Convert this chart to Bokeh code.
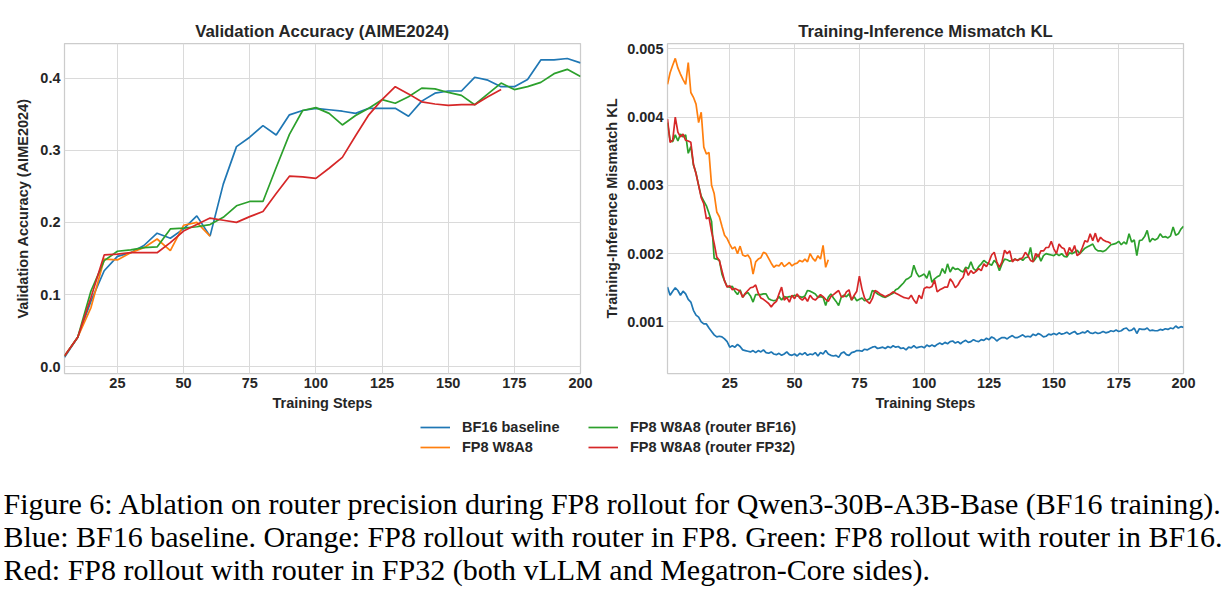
from bokeh.plotting import figure
from bokeh.layouts import column, row
from bokeh.models import (Range1d, FixedTicker, PrintfTickFormatter, Legend,
                          LegendItem, Label)
from bokeh.embed import file_html
from bokeh.resources import INLINE

# ---------------- data ----------------
acc_steps = [5, 10, 15, 20, 25, 30, 35, 40, 45, 50, 55, 60, 65, 70, 75, 80, 85, 90, 95, 100,
             105, 110, 115, 120, 125, 130, 135, 140, 145, 150, 155, 160, 165, 170, 175, 180,
             185, 190, 195, 200]
acc_bf16 = [0.013, 0.041, 0.091, 0.133, 0.153, 0.158, 0.168, 0.185, 0.178, 0.191,
            0.209, 0.181, 0.253, 0.305, 0.318, 0.334, 0.321, 0.349, 0.355, 0.358,
            0.356, 0.354, 0.351, 0.358, 0.358, 0.358, 0.347, 0.368, 0.379, 0.382,
            0.382, 0.401, 0.397, 0.388, 0.388, 0.398, 0.425, 0.425, 0.427, 0.421]
acc_fp8 = [0.015, 0.041, 0.082, 0.149, 0.148, 0.158, 0.165, 0.177, 0.161, 0.196,
           0.200, 0.181]
acc_router_bf16 = [0.015, 0.041, 0.105, 0.147, 0.160, 0.162, 0.165, 0.166, 0.191, 0.192,
                   0.194, 0.197, 0.207, 0.223, 0.229, 0.229, 0.276, 0.322, 0.355, 0.359,
                   0.351, 0.335, 0.348, 0.358, 0.370, 0.365, 0.374, 0.386, 0.385, 0.380,
                   0.376, 0.363, 0.378, 0.393, 0.384, 0.388, 0.394, 0.406, 0.412, 0.402]
acc_router_fp32 = [0.015, 0.041, 0.096, 0.155, 0.156, 0.158, 0.158, 0.158, 0.172, 0.188,
                   0.197, 0.206, 0.203, 0.200, 0.208, 0.215, 0.240, 0.264, 0.263, 0.261,
                   0.275, 0.290, 0.320, 0.349, 0.370, 0.388, 0.378, 0.367, 0.364, 0.362,
                   0.363, 0.363, 0.374, 0.384]

kl_steps = list(range(1, 201))
kl_bf16 = [
    0.00151, 0.00139, 0.00145, 0.00150, 0.00146, 0.00139, 0.00145, 0.00141, 0.00133, 0.00129,
    0.00117, 0.00110, 0.00107, 0.00100, 0.00097, 0.00097, 0.00091, 0.00086, 0.00081, 0.00078,
    0.00079, 0.00078, 0.00075, 0.00071, 0.00063, 0.00065, 0.00063, 0.00067, 0.00064, 0.00059,
    0.00058, 0.00057, 0.00056, 0.00058, 0.00055, 0.00058, 0.00056, 0.00059, 0.00055, 0.00054,
    0.00056, 0.00053, 0.00052, 0.00054, 0.00051, 0.00053, 0.00056, 0.00052, 0.00051, 0.00053,
    0.00050, 0.00054, 0.00052, 0.00055, 0.00051, 0.00053, 0.00052, 0.00055, 0.00050, 0.00055,
    0.00053, 0.00058, 0.00053, 0.00051, 0.00050, 0.00051, 0.00048, 0.00054, 0.00056, 0.00052,
    0.00051, 0.00055, 0.00056, 0.00058, 0.00058, 0.00057, 0.00060, 0.00059, 0.00061, 0.00063,
    0.00064, 0.00061, 0.00062, 0.00063, 0.00061, 0.00064, 0.00062, 0.00065, 0.00063, 0.00064,
    0.00061, 0.00062, 0.00059, 0.00063, 0.00062, 0.00065, 0.00062, 0.00063, 0.00064, 0.00062,
    0.00066, 0.00064, 0.00066, 0.00064, 0.00067, 0.00069, 0.00067, 0.00070, 0.00068, 0.00071,
    0.00072, 0.00069, 0.00071, 0.00068, 0.00071, 0.00073, 0.00070, 0.00071, 0.00074, 0.00072,
    0.00071, 0.00074, 0.00073, 0.00076, 0.00074, 0.00078, 0.00076, 0.00072, 0.00075, 0.00077,
    0.00077, 0.00075, 0.00078, 0.00080, 0.00077, 0.00077, 0.00079, 0.00081, 0.00078, 0.00079,
    0.00078, 0.00082, 0.00080, 0.00083, 0.00081, 0.00078, 0.00079, 0.00082, 0.00081, 0.00083,
    0.00081, 0.00084, 0.00082, 0.00083, 0.00085, 0.00082, 0.00084, 0.00086, 0.00082, 0.00083,
    0.00085, 0.00084, 0.00087, 0.00084, 0.00083, 0.00085, 0.00083, 0.00084, 0.00086, 0.00084,
    0.00085, 0.00087, 0.00086, 0.00088, 0.00086, 0.00087, 0.00090, 0.00091, 0.00087, 0.00088,
    0.00091, 0.00083, 0.00090, 0.00089, 0.00089, 0.00091, 0.00087, 0.00088, 0.00087, 0.00087,
    0.00089, 0.00088, 0.00090, 0.00089, 0.00091, 0.00090, 0.00094, 0.00091, 0.00093, 0.00092]
kl_fp8 = [
    0.00448, 0.00465, 0.00476, 0.00486, 0.00472, 0.00463, 0.00455, 0.00448, 0.00480, 0.00436,
    0.00429, 0.00419, 0.00392, 0.00407, 0.00356, 0.00346, 0.00348, 0.00300, 0.00288, 0.00261,
    0.00254, 0.00240, 0.00227, 0.00222, 0.00214, 0.00207, 0.00210, 0.00200, 0.00211, 0.00198,
    0.00196, 0.00198, 0.00192, 0.00170, 0.00188, 0.00192, 0.00194, 0.00202, 0.00200, 0.00193,
    0.00186, 0.00180, 0.00183, 0.00182, 0.00187, 0.00181, 0.00184, 0.00187, 0.00182, 0.00185,
    0.00186, 0.00190, 0.00188, 0.00192, 0.00188, 0.00200, 0.00193, 0.00189, 0.00197, 0.00192,
    0.00212, 0.00180, 0.00191]
kl_router_bf16 = [
    0.00392, 0.00366, 0.00364, 0.00374, 0.00365, 0.00375, 0.00371, 0.00374, 0.00347, 0.00357,
    0.00330, 0.00318, 0.00300, 0.00284, 0.00277, 0.00270, 0.00259, 0.00247, 0.00193, 0.00192,
    0.00190, 0.00170, 0.00160, 0.00152, 0.00151, 0.00152, 0.00145, 0.00140, 0.00147, 0.00136,
    0.00141, 0.00143, 0.00138, 0.00129, 0.00140, 0.00140, 0.00140, 0.00141, 0.00141, 0.00134,
    0.00132, 0.00131, 0.00132, 0.00137, 0.00132, 0.00137, 0.00136, 0.00137, 0.00137, 0.00139,
    0.00138, 0.00137, 0.00136, 0.00138, 0.00146, 0.00145, 0.00143, 0.00141, 0.00136, 0.00137,
    0.00136, 0.00124, 0.00136, 0.00141, 0.00135, 0.00130, 0.00124, 0.00136, 0.00139, 0.00137,
    0.00141, 0.00132, 0.00137, 0.00131, 0.00133, 0.00135, 0.00131, 0.00132, 0.00134, 0.00146,
    0.00144, 0.00141, 0.00139, 0.00137, 0.00136, 0.00138, 0.00140, 0.00142, 0.00147, 0.00149,
    0.00153, 0.00157, 0.00162, 0.00164, 0.00167, 0.00183, 0.00172, 0.00166, 0.00168, 0.00170,
    0.00164, 0.00175, 0.00158, 0.00163, 0.00166, 0.00168, 0.00178, 0.00171, 0.00185, 0.00173,
    0.00180, 0.00177, 0.00178, 0.00175, 0.00173, 0.00180, 0.00178, 0.00188, 0.00178, 0.00175,
    0.00181, 0.00185, 0.00190, 0.00187, 0.00185, 0.00183, 0.00190, 0.00186, 0.00175, 0.00185,
    0.00192, 0.00191, 0.00189, 0.00190, 0.00192, 0.00190, 0.00193, 0.00190, 0.00194, 0.00195,
    0.00209, 0.00188, 0.00193, 0.00199, 0.00189, 0.00197, 0.00200, 0.00199, 0.00198, 0.00197,
    0.00200, 0.00197, 0.00200, 0.00196, 0.00195, 0.00201, 0.00200, 0.00202, 0.00205, 0.00200,
    0.00204, 0.00208, 0.00210, 0.00212, 0.00214, 0.00207, 0.00204, 0.00204, 0.00203, 0.00205,
    0.00209, 0.00213, 0.00214, 0.00215, 0.00218, 0.00213, 0.00217, 0.00214, 0.00229, 0.00217,
    0.00220, 0.00197, 0.00219, 0.00220, 0.00225, 0.00234, 0.00217, 0.00222, 0.00220, 0.00222,
    0.00229, 0.00224, 0.00225, 0.00223, 0.00226, 0.00239, 0.00227, 0.00229, 0.00236, 0.00240]
kl_router_fp32 = [
    0.00397, 0.00363, 0.00366, 0.00400, 0.00378, 0.00371, 0.00375, 0.00366, 0.00365, 0.00363,
    0.00331, 0.00317, 0.00300, 0.00282, 0.00273, 0.00251, 0.00253, 0.00232, 0.00215, 0.00195,
    0.00190, 0.00175, 0.00160, 0.00151, 0.00153, 0.00147, 0.00149, 0.00147, 0.00145, 0.00136,
    0.00142, 0.00146, 0.00150, 0.00151, 0.00154, 0.00142, 0.00135, 0.00133, 0.00130, 0.00127,
    0.00122, 0.00127, 0.00130, 0.00141, 0.00151, 0.00132, 0.00136, 0.00129, 0.00139, 0.00134,
    0.00141, 0.00135, 0.00132, 0.00136, 0.00130, 0.00139, 0.00134, 0.00132, 0.00136, 0.00140,
    0.00137, 0.00133, 0.00130, 0.00137, 0.00140, 0.00143, 0.00146, 0.00137, 0.00137, 0.00144,
    0.00147, 0.00132, 0.00139, 0.00145, 0.00167, 0.00148, 0.00135, 0.00130, 0.00127, 0.00134,
    0.00146, 0.00144, 0.00141, 0.00139, 0.00137, 0.00139, 0.00141, 0.00144, 0.00142, 0.00140,
    0.00138, 0.00136, 0.00135, 0.00134, 0.00139, 0.00132, 0.00127, 0.00139, 0.00134, 0.00149,
    0.00151, 0.00150, 0.00152, 0.00161, 0.00144, 0.00147, 0.00149, 0.00151, 0.00151, 0.00163,
    0.00158, 0.00150, 0.00154, 0.00161, 0.00165, 0.00178, 0.00168, 0.00175, 0.00171, 0.00174,
    0.00178, 0.00175, 0.00185, 0.00181, 0.00188, 0.00198, 0.00202, 0.00188, 0.00180, 0.00188,
    0.00205, 0.00200, 0.00204, 0.00188, 0.00192, 0.00190, 0.00192, 0.00194, 0.00202, 0.00197,
    0.00190, 0.00188, 0.00200, 0.00195, 0.00204, 0.00204, 0.00209, 0.00209, 0.00218, 0.00207,
    0.00200, 0.00214, 0.00209, 0.00207, 0.00197, 0.00209, 0.00202, 0.00212, 0.00197, 0.00200,
    0.00209, 0.00219, 0.00217, 0.00229, 0.00219, 0.00230, 0.00217, 0.00224, 0.00220, 0.00218,
    0.00217, 0.00215]

x_ticks = [25, 50, 75, 100, 125, 150, 175, 200]
acc_ticks = [0.0, 0.1, 0.2, 0.3, 0.4]
kl_ticks = [0.001, 0.002, 0.003, 0.004, 0.005]

series_names = ["BF16 baseline", "FP8 W8A8", "FP8 W8A8 (router BF16)", "FP8 W8A8 (router FP32)"]
series_colors = ["#1f77b4", "#ff7f0e", "#2ca02c", "#d62728"]

caption_lines = [
    "Figure 6: Ablation on router precision during FP8 rollout for Qwen3-30B-A3B-Base (BF16 training).",
    "Blue: BF16 baseline. Orange: FP8 rollout with router in FP8. Green: FP8 rollout with router in BF16.",
    "Red: FP8 rollout with router in FP32 (both vLLM and Megatron-Core sides).",
]

# ---------------- style ----------------
FONT = "Liberation Sans"
TXT = "#262626"
LW = 1.7


def style(p, yfmt):
    p.title.text_font = FONT
    p.title.text_font_style = "bold"
    p.title.text_font_size = "16.8px"
    p.title.align = "center"
    p.title.text_color = TXT
    p.title.standoff = 6
    p.outline_line_color = "#cccccc"
    p.outline_line_width = 1.25
    for ax in (p.xaxis[0], p.yaxis[0]):
        ax.axis_line_color = None
        ax.major_tick_line_color = None
        ax.minor_tick_line_color = None
        ax.major_tick_out = 0
        ax.major_tick_in = 0
        ax.major_label_text_font = FONT
        ax.major_label_text_font_style = "bold"
        ax.major_label_text_font_size = "14.5px"
        ax.major_label_text_color = TXT
        ax.axis_label_text_font = FONT
        ax.axis_label_text_font_style = "bold"
        ax.axis_label_text_font_size = "14.5px"
        ax.axis_label_text_color = TXT
        ax.major_label_standoff = 4
        ax.axis_label_standoff = 4
    p.xaxis[0].ticker = FixedTicker(ticks=x_ticks)
    p.yaxis[0].formatter = PrintfTickFormatter(format=yfmt)
    p.xgrid.grid_line_color = "#dadada"
    p.ygrid.grid_line_color = "#dadada"
    p.xgrid.grid_line_width = 1
    p.ygrid.grid_line_width = 1


# ---------------- left plot ----------------
p1 = figure(width=600, height=415, output_backend="svg", toolbar_location=None,
            title="Validation Accuracy (AIME2024)",
            x_range=Range1d(5, 200), y_range=Range1d(-0.0093, 0.4478),
            min_border_left=64, min_border_right=20, min_border_top=43, min_border_bottom=42)
style(p1, "%.1f")
p1.yaxis[0].ticker = FixedTicker(ticks=acc_ticks)
p1.xaxis[0].axis_label = "Training Steps"
p1.yaxis[0].axis_label = "Validation Accuracy (AIME2024)"
p1.yaxis[0].axis_label_standoff = 6
p1.line(acc_steps, acc_bf16, line_color=series_colors[0], line_width=LW)
p1.line(acc_steps[:len(acc_fp8)], acc_fp8, line_color=series_colors[1], line_width=LW)
p1.line(acc_steps, acc_router_bf16, line_color=series_colors[2], line_width=LW)
p1.line(acc_steps[:len(acc_router_fp32)], acc_router_fp32, line_color=series_colors[3], line_width=LW)

# ---------------- right plot ----------------
p2 = figure(width=632, height=415, output_backend="svg", toolbar_location=None,
            title="Training-Inference Mismatch KL",
            x_range=Range1d(1, 200), y_range=Range1d(0.000244, 0.005078),
            min_border_left=67, min_border_right=49, min_border_top=43, min_border_bottom=42)
style(p2, "%.3f")
p2.yaxis[0].ticker = FixedTicker(ticks=kl_ticks)
p2.xaxis[0].axis_label = "Training Steps"
p2.yaxis[0].axis_label = "Training-Inference Mismatch KL"
p2.line(kl_steps, kl_bf16, line_color=series_colors[0], line_width=LW)
p2.line(kl_steps[:len(kl_fp8)], kl_fp8, line_color=series_colors[1], line_width=LW)
p2.line(kl_steps, kl_router_bf16, line_color=series_colors[2], line_width=LW)
p2.line(kl_steps[:len(kl_router_fp32)], kl_router_fp32, line_color=series_colors[3], line_width=LW)

# ---------------- legend + caption ----------------
p3 = figure(width=1232, height=187, output_backend="svg", toolbar_location=None,
            x_range=Range1d(0, 1232), y_range=Range1d(0, 187),
            x_axis_type=None, y_axis_type=None, outline_line_color=None,
            min_border_left=0, min_border_right=0, min_border_top=0, min_border_bottom=0)
p3.xgrid.visible = False
p3.ygrid.visible = False

# legend-only renderers (one NaN point each: nothing is drawn in the plot area)
nan = float("nan")
legend_renderers = [p3.line(x=[nan], y=[nan], line_color=c, line_width=LW) for c in series_colors]


def make_legend(idx, loc):
    items = [LegendItem(label=series_names[i], renderers=[legend_renderers[i]]) for i in idx]
    lg = Legend(items=items, location=loc, orientation="vertical",
                glyph_width=30, glyph_height=20, label_height=20, label_standoff=12,
                spacing=0, padding=0, margin=0, border_line_alpha=0,
                background_fill_alpha=0, label_text_font=FONT,
                label_text_font_style="bold", label_text_font_size="14.5px",
                label_text_color=TXT)
    p3.add_layout(lg)


make_legend([0, 1], (420, 145))
make_legend([2, 3], (588, 145))

for txt, yb in zip(caption_lines, [99, 66, 33]):
    p3.add_layout(Label(x=3, y=yb, x_units="screen", y_units="screen", text=txt,
                        text_font="Liberation Serif", text_font_size="30px",
                        text_color="black", text_baseline="alphabetic"))

layout = column(row(p1, p2), p3)
open("out.html", "w").write(file_html(layout, INLINE))
